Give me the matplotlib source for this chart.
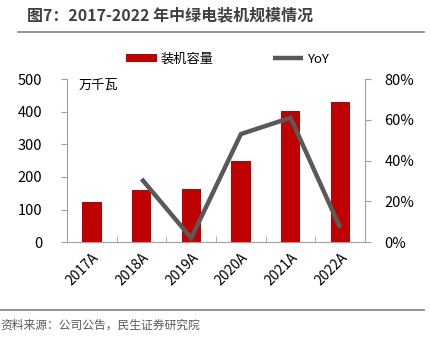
import numpy as np
import matplotlib
matplotlib.use('Agg')
import matplotlib.pyplot as plt
from matplotlib.ticker import FuncFormatter, FixedLocator

plt.rcParams['font.family'] = ['Noto Sans CJK SC', 'DejaVu Sans']

years = ['2017A', '2018A', '2019A', '2020A', '2021A', '2022A']
capacity = [122, 160, 163, 250, 403, 430]          # 万千瓦
yoy_years = ['2018A', '2019A', '2020A', '2021A', '2022A']
yoy = [0.31, 0.02, 0.53, 0.61, 0.07]

RED = '#C00000'
GREY = '#595959'

fig = plt.figure(figsize=(4.3, 3.42), dpi=100)
fig.patch.set_facecolor('white')

# title + rules
fig.text(0.062, 0.955, '图7：2017-2022 年中绿电装机规模情况', fontsize=11.5,
         fontweight='bold', color='#404040', va='center', ha='left')
fig.add_artist(plt.Line2D([0.042, 0.985], [0.907, 0.907], color='#808080', lw=1.2))
fig.add_artist(plt.Line2D([0.0, 0.985], [0.094, 0.094], color='#808080', lw=1.2))
fig.text(0.0, 0.05, '资料来源：公司公告，民生证券研究院', fontsize=8.5,
         color='#595959', va='center', ha='left')

ax = fig.add_axes([0.156, 0.292, 0.693, 0.477])
x = np.arange(len(years))
bars = ax.bar(x, capacity, width=0.39, color=RED, label='装机容量', zorder=2)
ax.set_xlim(-0.5, len(years) - 0.5)
ax.set_ylim(0, 500)
ax.set_yticks(range(0, 501, 100))
ax.set_xticks(x)
ax.set_xticklabels(years, rotation=45, ha='right', rotation_mode='anchor', fontsize=10)
ax.xaxis.set_minor_locator(FixedLocator(np.arange(-0.5, len(years), 1)))
ax.tick_params(axis='x', which='major', length=0, pad=6)
ax.tick_params(axis='x', which='minor', length=4, color='#A0A0A0', direction='in')
ax.tick_params(axis='y', length=4, color='#A0A0A0', labelsize=10.5, direction='out', pad=14)
for s in ['top', 'right']:
    ax.spines[s].set_visible(False)
ax.spines['left'].set_color('#A0A0A0')
ax.spines['bottom'].set_color('#A0A0A0')
ax.text(0.037, 0.96, '万千瓦', transform=ax.transAxes, fontsize=9.5, va='center', ha='left')

ax2 = ax.twinx()
xi = [years.index(y) for y in yoy_years]
line, = ax2.plot(xi, yoy, color=GREY, lw=3.2, label='YoY', zorder=3,
                 solid_capstyle='butt', solid_joinstyle='miter')
ax2.set_ylim(0, 0.8)
ax2.set_yticks(np.arange(0, 0.81, 0.2))
ax2.yaxis.set_major_formatter(FuncFormatter(lambda v, _: f'{v:.0%}'))
ax2.tick_params(axis='y', length=4, color='#A0A0A0', labelsize=10.5, direction='out', pad=10)
for s in ['top', 'left', 'bottom']:
    ax2.spines[s].set_visible(False)
ax2.spines['right'].set_color('#A0A0A0')

fig.legend([bars, line], ['装机容量', 'YoY'], loc='center', ncol=2,
           bbox_to_anchor=(0.53, 0.827), frameon=False, fontsize=9.5,
           handlelength=2.3, handleheight=0.55, columnspacing=4.5, handletextpad=0.3)

fig.savefig('out.png', dpi=100, facecolor='white')
